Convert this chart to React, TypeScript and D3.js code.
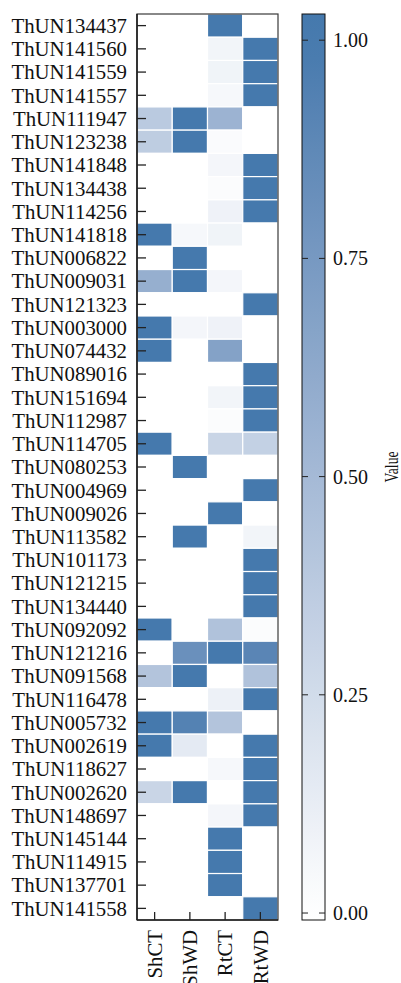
import React from "react";
import * as d3 from "d3";

const genes = [
  "ThUN134437", "ThUN141560", "ThUN141559", "ThUN141557", "ThUN111947",
  "ThUN123238", "ThUN141848", "ThUN134438", "ThUN114256", "ThUN141818",
  "ThUN006822", "ThUN009031", "ThUN121323", "ThUN003000", "ThUN074432",
  "ThUN089016", "ThUN151694", "ThUN112987", "ThUN114705", "ThUN080253",
  "ThUN004969", "ThUN009026", "ThUN113582", "ThUN101173", "ThUN121215",
  "ThUN134440", "ThUN092092", "ThUN121216", "ThUN091568", "ThUN116478",
  "ThUN005732", "ThUN002619", "ThUN118627", "ThUN002620", "ThUN148697",
  "ThUN145144", "ThUN114915", "ThUN137701", "ThUN141558",
];

const conditions = ["ShCT", "ShWD", "RtCT", "RtWD"];

// one array per condition, same order as genes
const shCT = [0, 0, 0, 0, 0.38, 0.36, 0, 0, 0, 1, 0, 0.58, 0, 1, 1, 0, 0, 0, 1, 0, 0, 0, 0, 0, 0, 0, 1, 0, 0.42, 0, 1, 1, 0, 0.3, 0, 0, 0, 0, 0];
const shWD = [0, 0, 0, 0, 1, 1, 0, 0, 0, 0.05, 1, 1, 0, 0.06, 0, 0, 0, 0, 0, 1, 0, 0, 1, 0, 0, 0, 0, 0.82, 1, 0, 0.93, 0.15, 0, 1, 0, 0, 0, 0, 0];
const rtCT = [1, 0.07, 0.08, 0.05, 0.55, 0.03, 0.06, 0.02, 0.09, 0.08, 0, 0.06, 0, 0.09, 0.68, 0, 0.07, 0.02, 0.3, 0, 0, 1, 0, 0, 0, 0, 0.44, 1, 0, 0.1, 0.42, 0, 0.05, 0, 0.06, 1, 1, 1, 0];
const rtWD = [0, 1, 1, 1, 0, 0, 1, 1, 1, 0, 0, 0, 1, 0, 0, 1, 1, 1, 0.33, 0, 1, 0, 0.07, 1, 1, 1, 0.02, 0.9, 0.44, 1, 0, 1, 1, 1, 1, 0, 0, 0, 1];

const series = [shCT, shWD, rtCT, rtWD];
const colorTicks = [0, 0.25, 0.5, 0.75, 1];
const colorDomain = [-0.008, 1.03];

const font = "'Liberation Serif', 'DejaVu Serif', serif";

export default function App() {
  const width = 401;
  const height = 983;
  const top = 14;
  const bottom = 920;
  const left = 137;
  const right = 278;

  const x = d3.scaleBand().domain(conditions).range([left, right]);
  const y = d3.scaleBand().domain(genes).range([top, bottom]);
  const color = d3
    .scaleLinear<string>()
    .domain([0, 1])
    .range(["#ffffff", "#4579ad"])
    .interpolate(d3.interpolateLab)
    .clamp(true);

  const cells = conditions.flatMap((c, ci) =>
    genes.map((g, gi) => ({ c, g, v: series[ci][gi] }))
  );

  // colour bar
  const cbX0 = 302;
  const cbX1 = 325;
  const cbY = d3.scaleLinear().domain(colorDomain).range([bottom, top]);
  const stops = d3.range(0, 1.0001, 0.05).map((t) => {
    const v = colorDomain[0] + t * (colorDomain[1] - colorDomain[0]);
    return { off: t, col: color(v) };
  });

  return (
    <svg
      width={width}
      height={height}
      style={{ position: "absolute", left: 0, top: 0, background: "#fff" }}
      fontFamily={font}
    >
      <defs>
        <linearGradient id="cb" x1="0" y1="1" x2="0" y2="0">
          {stops.map((s, i) => (
            <stop key={i} offset={s.off} stopColor={s.col} />
          ))}
        </linearGradient>
      </defs>

      {cells.map((d, i) => (
        <rect
          key={i}
          x={x(d.c)}
          y={y(d.g)}
          width={x.bandwidth()}
          height={y.bandwidth()}
          fill={color(d.v)}
          stroke="#fff"
          strokeWidth={1.2}
        />
      ))}

      {/* frame */}
      <rect x={left} y={top} width={right - left} height={bottom - top} fill="none" stroke="#3a3a3a" strokeWidth={1.2} />
      <line x1={left} x2={left} y1={top} y2={bottom} stroke="#111" strokeWidth={1.4} />
      <line x1={left} x2={right} y1={bottom} y2={bottom} stroke="#222" strokeWidth={1.4} />

      {/* y axis */}
      {genes.map((g) => {
        const cy = (y(g) ?? 0) + y.bandwidth() / 2;
        return (
          <g key={g}>
            <line x1={left} x2={left + 9} y1={cy} y2={cy} stroke="#222" strokeWidth={1.3} />
            <text x={left - 10} y={cy} dy="0.35em" textAnchor="end" fontSize={20.8} fill="#111">
              {g}
            </text>
          </g>
        );
      })}

      {/* x axis */}
      {conditions.map((c) => {
        const cx = (x(c) ?? 0) + x.bandwidth() / 2;
        return (
          <g key={c}>
            <line x1={cx} x2={cx} y1={bottom} y2={bottom - 8} stroke="#222" strokeWidth={1.3} />
            <text
              transform={`translate(${cx},${bottom + 10}) rotate(-90)`}
              dy="0.35em"
              textAnchor="end"
              fontSize={20.8}
              fill="#111"
            >
              {c}
            </text>
          </g>
        );
      })}

      {/* colour bar */}
      <rect x={cbX0} y={top} width={cbX1 - cbX0} height={bottom - top} fill="url(#cb)" stroke="#111" strokeWidth={1} />
      {colorTicks.map((t) => (
        <g key={t}>
          <line x1={cbX0} x2={cbX0 + 6} y1={cbY(t)} y2={cbY(t)} stroke="#222" strokeWidth={1} />
          <line x1={cbX1 - 6} x2={cbX1} y1={cbY(t)} y2={cbY(t)} stroke="#222" strokeWidth={1} />
          <text x={cbX1 + 8} y={cbY(t)} dy="0.35em" fontSize={20} fill="#111">
            {d3.format(".2f")(t)}
          </text>
        </g>
      ))}
      <text
        transform={`translate(391,${(top + bottom) / 2}) rotate(-90) scale(0.72,1)`}
        textAnchor="middle"
        dy="0.35em"
        fontSize={19}
        fill="#111"
      >
        Value
      </text>
    </svg>
  );
}
